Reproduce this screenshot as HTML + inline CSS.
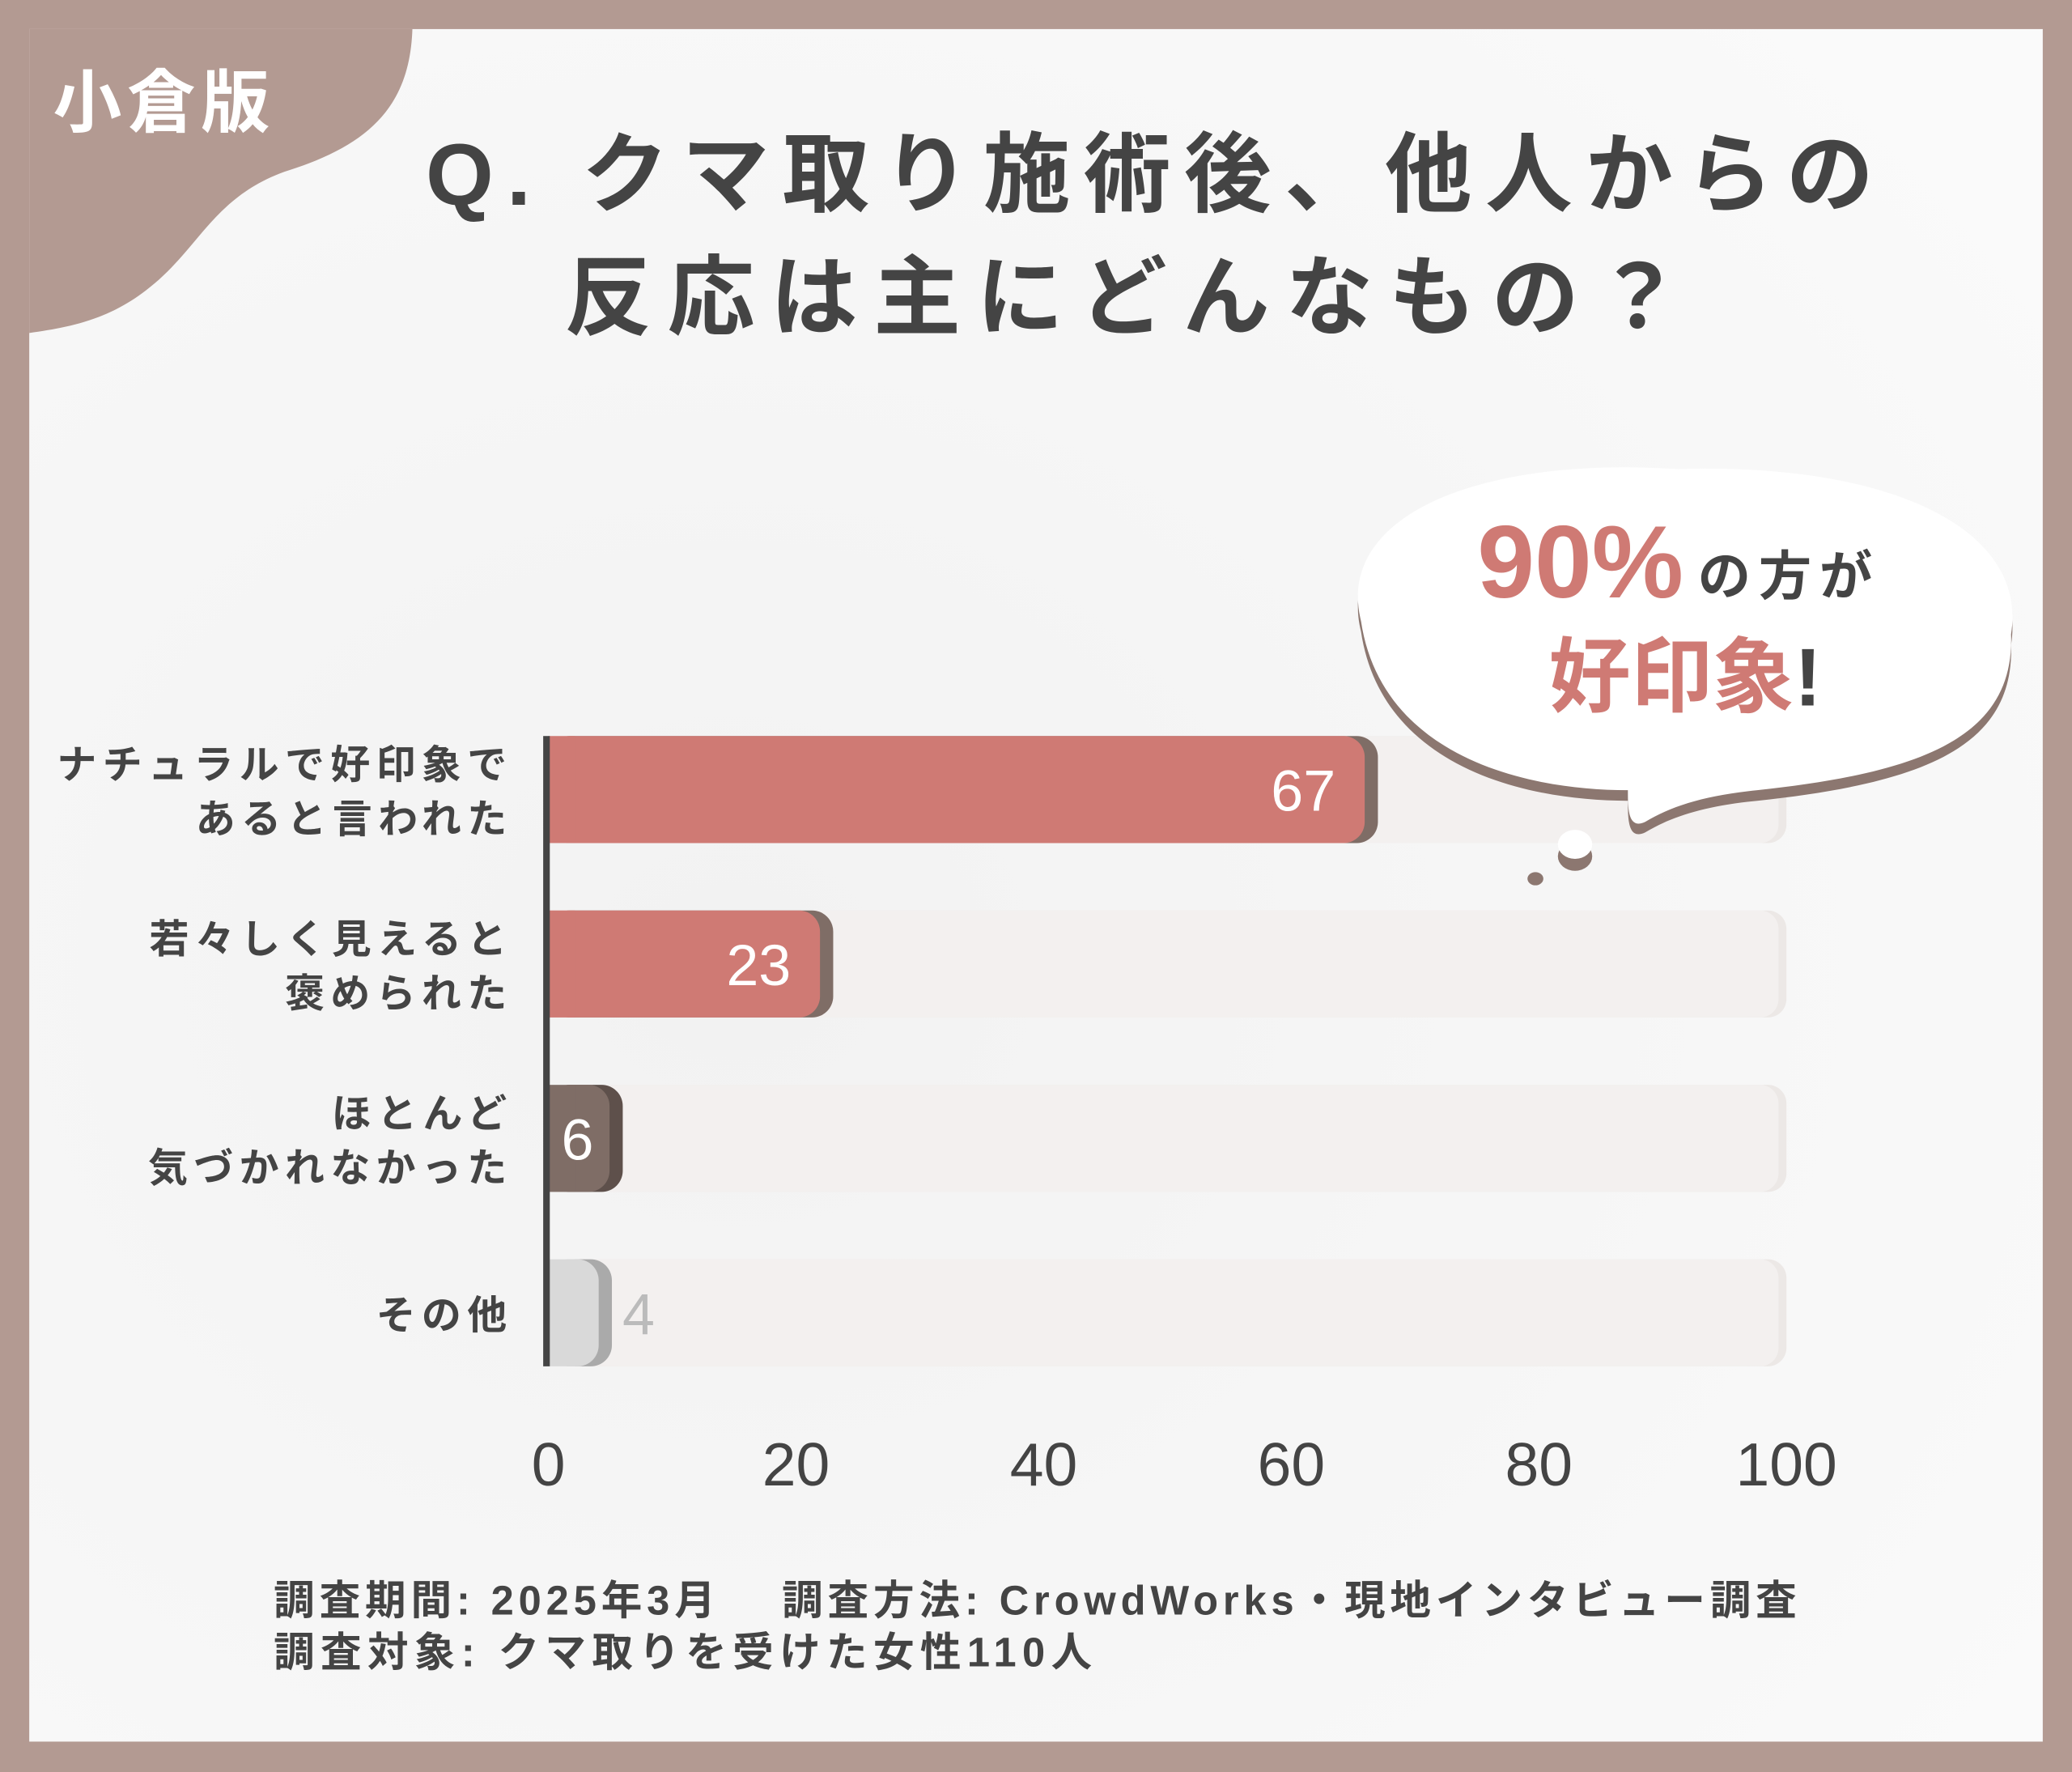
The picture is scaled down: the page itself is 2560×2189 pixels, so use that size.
<!DOCTYPE html>
<html><head><meta charset="utf-8"><style>
html,body{margin:0;padding:0;background:#b39a92}
svg{display:block}
text{font-family:"Liberation Sans","Noto Sans CJK JP",sans-serif}
</style></head><body>
<svg width="2560" height="2189" viewBox="0 0 1568 1341" xmlns="http://www.w3.org/2000/svg">
<defs>
<radialGradient id="bg" cx="0.35" cy="0.55" r="0.8"><stop offset="0" stop-color="#f2f2f2"/><stop offset="1" stop-color="#fafafa"/></radialGradient>
</defs>
<rect x="0" y="0" width="1568" height="1341" fill="#b39a92"/>
<rect x="22" y="22" width="1524" height="1296" fill="url(#bg)"/>
<path d="M22 22 H312 C310 80 280 110 215 130 C160 150 150 190 110 220 C80 243 50 248 22 252 Z" fill="#b39a92"/>
<text x="40" y="96" font-size="52" font-weight="bold" fill="#fff" letter-spacing="4">小倉版</text>
<text x="875" y="155" font-size="66" font-weight="bold" fill="#444" text-anchor="middle" letter-spacing="10">Q. クマ取り施術後、他人からの</text>
<text x="856" y="248" font-size="66" font-weight="bold" fill="#444" text-anchor="middle" letter-spacing="12">反応は主にどんなもの？</text>
<g id="plot"></g>
<g>
<path d="M1030 470 C1010 390 1120 345 1270 355 C1430 350 1535 400 1522 480 C1525 560 1450 585 1330 598 C1290 602 1265 610 1245 622 C1232 628 1232 612 1232 598 C1150 598 1045 570 1030 470 Z" fill="#8c7770" transform="translate(0,8)"/>
<path d="M1030 470 C1010 390 1120 345 1270 355 C1430 350 1535 400 1522 480 C1525 560 1450 585 1330 598 C1290 602 1265 610 1245 622 C1232 628 1232 612 1232 598 C1150 598 1045 570 1030 470 Z" fill="#fff"/>
<ellipse cx="1192" cy="648" rx="13" ry="11" fill="#8c7770"/><ellipse cx="1192" cy="639" rx="13" ry="11" fill="#fff"/>
<ellipse cx="1162" cy="665" rx="6" ry="5" fill="#8c7770"/>
<text x="1118" y="452" font-size="78" font-weight="bold" fill="#cf7a74">90%</text>
<text x="1285" y="450" font-size="40" font-weight="bold" fill="#444" letter-spacing="6">の方が</text>
<text x="1172" y="534" font-size="62" font-weight="bold" fill="#cf7a74">好印象<tspan fill="#444">!</tspan></text>
</g>
<text x="207" y="1222" font-size="31" font-weight="bold" fill="#444" letter-spacing="3.6">調査期間: 2025年3月　 調査方法: CrowdWorks・現地インタビュー調査</text>
<text x="207" y="1261" font-size="31" font-weight="bold" fill="#444" letter-spacing="4.5">調査対象: クマ取りを受けた女性110人</text>
</svg>
<script>
const categories=[["ナチュラルで好印象で","あると言われた"],["若々しく見えると","褒められた"],["ほとんど","気づかれなかった"],["その他"]];
const values=[67,23,6,4];
const ticks=[0,20,40,60,80,100];
const NS="http://www.w3.org/2000/svg";
const plot=document.getElementById("plot");
const x0=415,x1=1352,top0=557,bh=81,gap=132;
const xs=v=>x0+(x1-x0)*v/100;
function mk(t,a){const e=document.createElementNS(NS,t);for(const k in a)e.setAttribute(k,a[k]);plot.appendChild(e);return e;}
const fills=["#cf7a74","#cf7a74","#7f6d66","#d9d9d9"];
const shadows=["#7f6d66","#7f6d66","#5e504b","#aaaaaa"];
values.forEach((v,i)=>{
  const y=top0+i*gap;
  const tr=mk("rect",{x:x0,y:y,width:x1-x0,height:bh,rx:14,fill:"#ece8e6"});
  
  
  mk("rect",{x:x0,y:y,width:x1-x0-6,height:bh,rx:14,fill:"#f3f0ef"});
  const end=Math.max(xs(v),x0+48);
  const sh=mk("rect",{x:x0,y:y,width:end-x0,height:bh,rx:16,fill:shadows[i]});
  
  
  const b=mk("rect",{x:x0,y:y,width:end-x0-10,height:bh,rx:16,fill:fills[i]});
  
  
  mk("rect",{x:x0,y:y,width:Math.min(20,end-x0-10),height:bh,fill:fills[i]});
  const inside=v>=6;
  const t=mk("text",{x:inside?end-32:end+8,y:y+bh/2+16,"font-size":44,fill:inside?"#fff":"#bbb","text-anchor":inside?"end":"start"});
  if(v<10&&inside){t.setAttribute("x",end-22);}
  t.textContent=v;
  
  
  const lines=categories[i];
  lines.forEach((ln,j)=>{
    const lt=mk("text",{x:388,y:y+bh/2+12+(j-(lines.length-1)/2)*41,"font-size":30,fill:"#444","text-anchor":"end","letter-spacing":4.5,"font-weight":"bold"});
    lt.textContent=ln;
    
    
  });
});
const ax=mk("rect",{x:x0-4,y:top0,width:5,height:3*gap+bh,fill:"#444"});


ticks.forEach(tk=>{
  const t=mk("text",{x:xs(tk),y:1124,"font-size":46,"text-anchor":"middle",fill:"#444"});
  t.textContent=tk;
  
  
});
</script>
</body></html>
